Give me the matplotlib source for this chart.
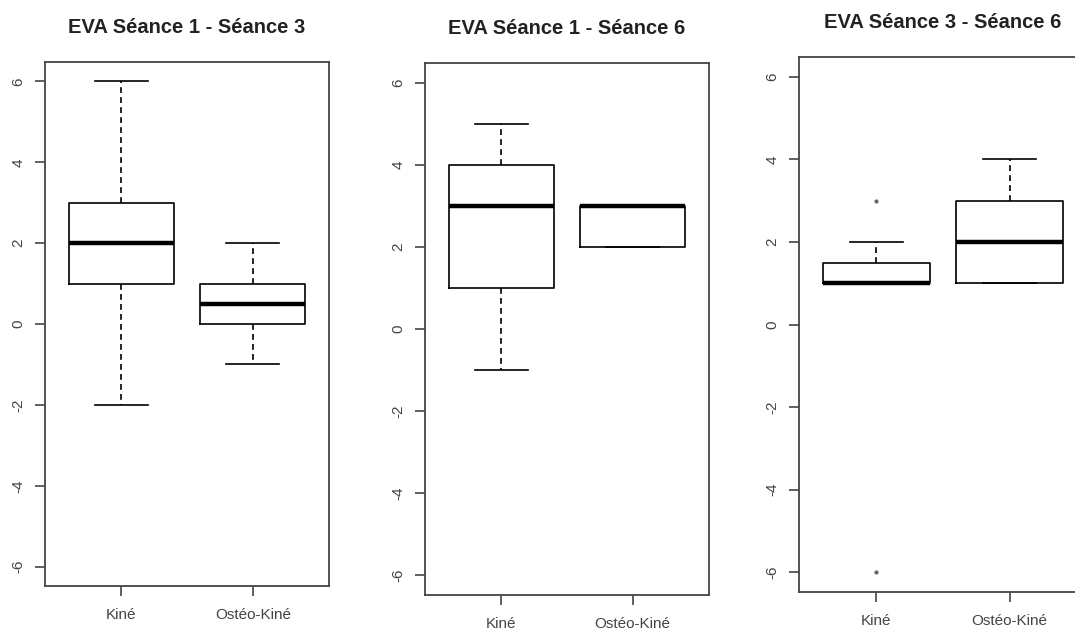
import matplotlib
matplotlib.use('Agg')
import matplotlib.pyplot as plt

plt.rcParams['font.family'] = ['Liberation Sans', 'DejaVu Sans']
plt.rcParams['axes.unicode_minus'] = False

# --- données ---
groupes = ['Kiné', 'Ostéo-Kiné']
titres = ['EVA Séance 1 - Séance 3', 'EVA Séance 1 - Séance 6', 'EVA Séance 3 - Séance 6']

# séance 1 -> séance 3
s13_med = [2, 0.5]
s13_q1 = [1, 0]
s13_q3 = [3, 1]
s13_bas = [-2, -1]
s13_haut = [6, 2]
s13_out = [[], []]

# séance 1 -> séance 6
s16_med = [3, 3]
s16_q1 = [1, 2]
s16_q3 = [4, 3]
s16_bas = [-1, 2]
s16_haut = [5, 3]
s16_out = [[], []]

# séance 3 -> séance 6
s36_med = [1, 2]
s36_q1 = [1, 1]
s36_q3 = [1.5, 3]
s36_bas = [1, 1]
s36_haut = [2, 4]
s36_out = [[3, -6], []]

yticks = [-6, -4, -2, 0, 2, 4, 6]

series = [
    (s13_med, s13_q1, s13_q3, s13_bas, s13_haut, s13_out),
    (s16_med, s16_q1, s16_q3, s16_bas, s16_haut, s16_out),
    (s36_med, s36_q1, s36_q3, s36_bas, s36_haut, s36_out),
]

# positions des panneaux (fraction de figure), le 3e déborde à droite comme l'original
positions = [
    [0.0419, 0.0698, 0.2642, 0.8317],
    [0.3953, 0.0556, 0.2642, 0.8444],
    [0.7433, 0.0603, 0.2679, 0.8490],
]

fig = plt.figure(figsize=(10.75, 6.3), dpi=100)

for titre, donnees, pos in zip(titres, series, positions):
    med, q1, q3, bas, haut, out = donnees
    stats = []
    for i, g in enumerate(groupes):
        stats.append(dict(label=g, med=med[i], q1=q1[i], q3=q3[i],
                          whislo=bas[i], whishi=haut[i], fliers=out[i]))
    ax = fig.add_axes(pos)
    ax.bxp(stats, positions=[1, 2], widths=0.8, capwidths=0.4,
           boxprops=dict(color='black', lw=1.2),
           medianprops=dict(color='black', lw=3.2, solid_capstyle='butt'),
           whiskerprops=dict(color='black', lw=1.2, linestyle=(0, (3.5, 2.5))),
           capprops=dict(color='black', lw=1.2),
           flierprops=dict(marker='o', markersize=2, markerfacecolor='#666666',
                           markeredgecolor='#666666', linestyle='none'))
    ax.set_xlim(0.42, 2.58)
    ax.set_ylim(-6.48, 6.48)
    ax.set_yticks(yticks)
    ax.set_yticklabels([str(t) for t in yticks], rotation=90, va='center')
    ax.set_xticks([1, 2])
    ax.set_xticklabels(groupes)
    for sp in ax.spines.values():
        sp.set_color('#444444')
        sp.set_linewidth(1.3)
    ax.tick_params(axis='both', length=7, width=1.2, color='#444444',
                   labelcolor='#444444', labelsize=11)
    ax.tick_params(axis='y', pad=7)
    ax.tick_params(axis='x', pad=9)
    ax.annotate(titre, xy=(0.5, 1), xycoords='axes fraction', xytext=(0, 25),
                textcoords='offset points', ha='center', va='center',
                fontsize=14.5, fontweight='bold', color='#222222')

fig.savefig('out.png', dpi=100)
